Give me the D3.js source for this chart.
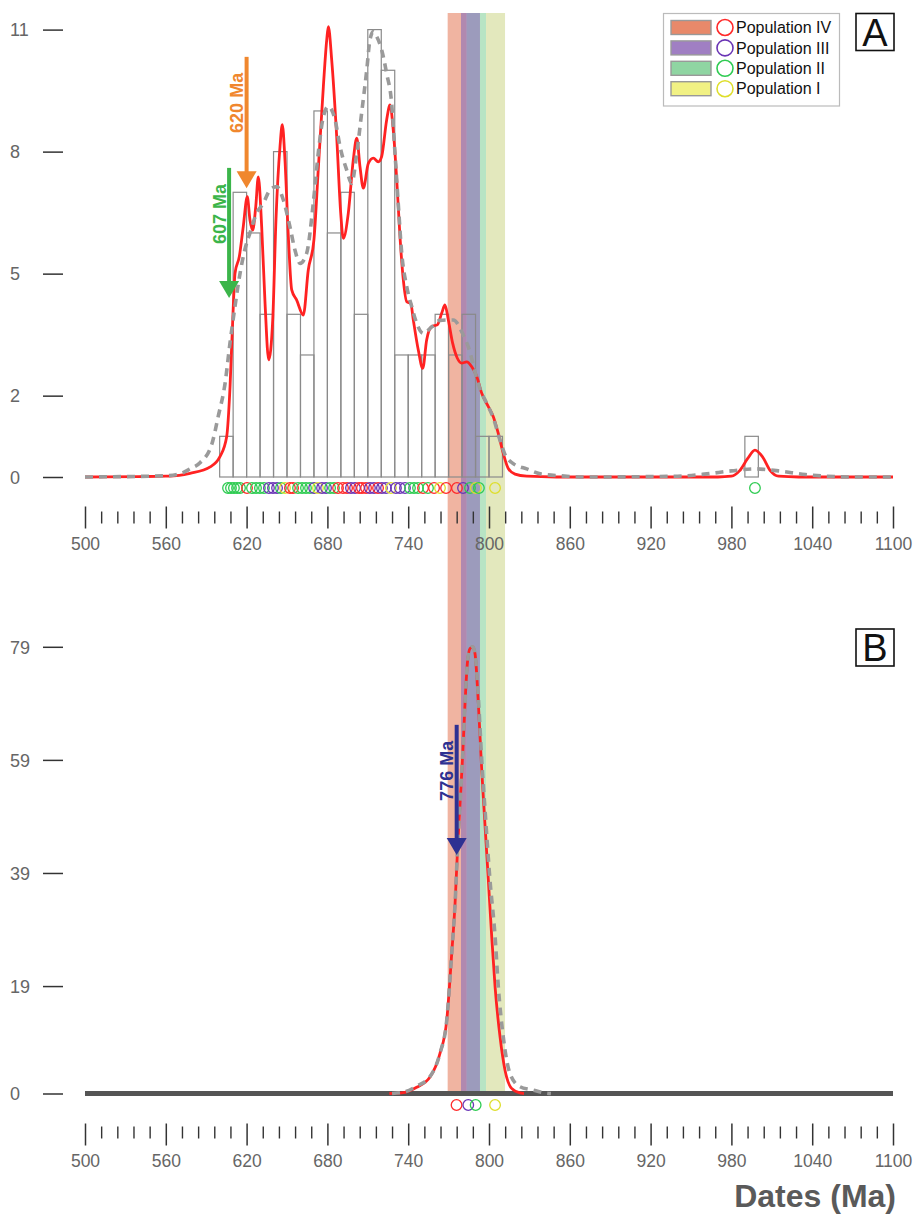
<!DOCTYPE html>
<html lang="en">
<head>
<meta charset="UTF-8">
<script src="https://d3js.org/d3.v7.min.js"></script>
<title>Dates (Ma)</title>
<style>
body{margin:0;background:#fff;}
text{font-family:"Liberation Sans",Arial,sans-serif;}
</style>
</head>
<body>
<script>
// ---- data ----
// histogram (panel A), 10 Ma bins
var binStarts = [600,610,620,630,640,650,660,670,680,690,700,710,720,730,740,750,760,770,780,790,800,990];
var binCounts = [1,7,6,4,8,4,3,9,6,7,4,11,10,3,3,3,4,3,4,1,1,1];

// panel A red curve (KDE)
var kdeAges = [500,540,560,570,578,593,600.2,605.2,607.7,609.7,611.4,614.6,617.5,620.5,622.5,624.5,626.8,628.7,631.2,633.7,636.4,639.4,641.8,644.8,646.5,648.5,651,653.5,657.2,662.1,665.8,670,673.2,677,679.5,680.7,683.2,686.9,689.9,691.8,695.5,699.2,701.8,704.2,706.7,710.4,714.1,717.8,720.3,724,726.5,728.9,731.5,733.9,736.4,738.9,741.9,743.8,747.5,750.8,753.7,757.5,761.6,764.9,767.3,769.8,773,776.5,779.7,783.4,787.2,790.9,794.6,799.5,803.2,806.9,810.6,814.3,819.3,828,850,970,980,986,992,997.5,1003,1009,1015,1030,1100];
var kdeVals = [0,0.01,0.02,0.04,0.09,0.25,0.5,0.99,2.22,3.86,5.01,5.42,6.15,6.89,6.32,6.07,6.65,7.38,6.15,4.27,2.88,3.86,6.32,8.12,8.66,7.79,5.91,4.6,4.35,3.98,5.09,5.83,7.55,9.6,10.75,11.07,10.25,8.37,6.48,5.87,6.48,7.79,8.33,7.63,7.1,7.71,7.84,7.75,7.88,8.78,9.15,8.53,7.3,5.91,4.84,4.31,4.27,3.86,3.12,2.67,3.37,3.7,3.74,4.03,4.23,3.86,3.29,2.92,2.8,2.83,2.71,2.47,2.06,1.73,1.48,1.07,0.58,0.21,0.07,0.02,0,0,0.02,0.15,0.45,0.66,0.5,0.15,0.02,0,0];

// panel A grey dashed curve (PDP)
var pdpAges = [500,560,570.5,578,585.4,594.1,599,604,607.7,611.4,615.1,618.8,622.5,627.5,632.4,637.4,642.4,647.3,652.2,655.9,659.7,664.6,669.5,673.2,677,680.7,685.7,689.4,694.3,698,701.8,705.5,709.2,711.6,714.1,716.6,720.3,724,727.7,730.2,732.6,735.2,738.9,742.6,746.3,751.2,757.5,763.6,769.8,773.5,780.9,785.9,789.6,793.3,798.3,803.2,808.2,811.9,818,828,838,853,870,940,960,980,997,1015,1035,1050,1070,1100];
var pdpVals = [0,0.03,0.08,0.2,0.35,0.8,1.5,2.3,3.3,4.2,5.0,5.6,6.0,6.49,6.73,7.06,7.14,6.81,6.15,5.58,5.25,5.5,6.73,7.96,8.86,9.11,8.78,8.12,7.55,7.22,7.96,8.97,10.0,10.75,10.95,10.83,10.5,9.92,9.19,7.96,6.73,5.5,4.68,4.19,3.78,3.53,3.69,3.85,3.86,3.86,3.49,3.07,2.58,2.17,1.81,1.45,0.9,0.55,0.33,0.2,0.08,0.03,0,0.02,0.07,0.15,0.2,0.15,0.06,0.02,0,0];

// panel B curves
var bKdeAges = [726,735.2,746.3,756.2,763.6,768.6,772.3,774.8,776.5,778.5,780.5,782.2,783.9,785.9,787.9,789.6,792.1,794.6,797.1,799.5,802,804.5,808.2,811.9,816.8,823,826];
var bKdeVals = [0,0.1,1.1,2.9,7.1,12.9,24.7,33.6,42.4,51.3,60.1,69,76,78.7,79,77.8,69,57.2,47.2,37.8,27.8,18.9,10,4.1,0.9,0.1,0];
var bPdpAges = [728,737.6,746.3,756.2,763.6,768.6,772.3,774.8,776.5,778.5,780.5,782.2,783.9,785.9,787.9,789.6,792.1,794.6,797.1,800.7,804.5,806.9,810.6,815.6,823,832.9,840.3,846];
var bPdpVals = [0,0.3,1.3,3,7.1,12.9,24.7,33.6,42.4,51.3,60.1,69,76,78.7,79,77.8,70,59,50,37.8,27.8,18.9,10,3.5,1.2,0.6,0.15,0];

// individual dates (circles) and their population
var dotAges = [606.2,608.4,610.6,612.9,615.1,620.3,624,627,629.9,632.9,636.6,639.6,642.6,645.5,648.5,652.2,654.5,658.2,661.2,664.1,667.1,670.1,673,676,679,682,684.9,687.9,691.6,694.6,697.5,700.5,703.5,705.7,708.7,711.6,714.6,717.6,720.5,723.5,727.2,730.9,733.9,737.6,741.3,744.3,747.3,751,754.7,759.2,763.6,768.1,776.2,780.7,785.9,790.3,792.5,804.5,997.5];
var dotPops = ["II","II","II","II","II","IV","II","II","II","II","III","III","III","II","I","IV","IV","II","II","II","II","III","I","III","III","II","II","IV","IV","IV","III","III","IV","IV","IV","III","III","IV","III","III","I","III","III","III","II","II","II","IV","II","IV","I","IV","IV","III","II","I","II","I","II"];
var bDotAges = [775.9,784.6,790.1,804.5];
var bDotPops = ["IV","III","II","I"];

// populations, bands
var pops = ["IV","III","II","I"];
var popNames = ["Population IV","Population III","Population II","Population I"];
var bandStart = [769.3,779.2,783.4,797.8];
var bandEnd = [783.4,793.3,797.8,811.9];

// annotated ages
var arrowAges = [620, 607];
var arrowTop = [10.33, 7.6];
var arrowTip = [7.1, 4.4];
var bArrowAge = 776, bArrowTop = 65.2, bArrowTip = 42.2;

var ticksA = [0,2,5,8,11];
var ticksB = [0,19,39,59,79];
var xMajor = d3.range(500,1101,60);
var xMinor = d3.range(500,1101,12).filter(function(d){return (d-500)%60!==0;});

// ---- styles ----
var dotColor = {IV:"#ff2a2a", III:"#6a35b5", II:"#2fcb52", I:"#dede2c"};
var swatchColor = {IV:"#e8896a", III:"#a07fc3", II:"#8fd5a2", I:"#f1f184"};
var bandColor = {IV:"#e8896a", III:"#8c70b8", II:"#8fd5a2", I:"#d3db96"};
var arrowColor = ["#f0872e","#3bb54a"];

var W = 920, H = 1217;
var svg = d3.select("body").append("svg").attr("width",W).attr("height",H);

var x = d3.scaleLinear().domain([500,1100]).range([85,893]);
var yA = d3.scaleLinear().domain([0,11]).range([477,29.6]);
var yB = d3.scaleLinear().domain([0,79]).range([1093.5,646.8]);

// bands behind everything
var bandOrder = [0,2,1,3];
svg.append("g").selectAll("rect").data(bandOrder).enter().append("rect")
  .attr("x",function(i){return x(bandStart[i]);})
  .attr("width",function(i){return x(bandEnd[i])-x(bandStart[i]);})
  .attr("y",13)
  .attr("height",yB(0)-13)
  .attr("fill",function(i){return bandColor[pops[i]];})
  .attr("fill-opacity",0.63);

// histogram
svg.append("g").selectAll("rect").data(binStarts).enter().append("rect")
  .attr("x",function(d){return x(d);})
  .attr("width",function(d){return x(d+10)-x(d);})
  .attr("y",function(d,i){return yA(binCounts[i]);})
  .attr("height",function(d,i){return yA(0)-yA(binCounts[i]);})
  .attr("fill","none").attr("stroke","#8a8a8a").attr("stroke-width",1.2);

function curve(ages, vals, y){
  return d3.line().x(function(d){return x(d);}).y(function(d,i){return y(vals[i]);})
    .curve(d3.curveMonotoneX)(ages);
}
function drawCurves(kA,kV,pA,pV,y){
  svg.append("path").attr("d",curve(kA,kV,y)).attr("fill","none")
    .attr("stroke","#ff2222").attr("stroke-width",2.8).attr("stroke-linejoin","round");
  svg.append("path").attr("d",curve(pA,pV,y)).attr("fill","none")
    .attr("stroke","#9a9a9a").attr("stroke-width",3.6).attr("stroke-dasharray","8,6");
}

// panel B baseline
svg.append("line").attr("x1",x(500)).attr("x2",x(1100)).attr("y1",yB(0)).attr("y2",yB(0))
  .attr("stroke","#555").attr("stroke-width",5);

drawCurves(kdeAges,kdeVals,pdpAges,pdpVals,yA);
drawCurves(bKdeAges,bKdeVals,bPdpAges,bPdpVals,yB);

// dots
function dots(ages, p, cy){
  svg.append("g").selectAll("circle").data(ages).enter().append("circle")
    .attr("cx",function(d){return x(d);}).attr("cy",cy).attr("r",5.3)
    .attr("fill","none").attr("stroke-width",1.3)
    .attr("stroke",function(d,i){return dotColor[p[i]];});
}
dots(dotAges,dotPops,488);
dots(bDotAges,bDotPops,1105);

// y axes
function yAxis(y, ticks){
  var g = svg.append("g").attr("transform","translate(63,0)")
    .call(d3.axisLeft(y).tickValues(ticks).tickSize(20).tickFormat(d3.format("d")));
  g.select(".domain").remove();
  g.selectAll("line").attr("stroke","#333").attr("stroke-width",1.5);
  g.selectAll("text").attr("x",-53).attr("text-anchor","start").attr("dy","0.35em")
    .attr("fill","#666").style("font-size","18px").style("font-family","Liberation Sans, Arial, sans-serif");
}
yAxis(yA, ticksA);
yAxis(yB, ticksB);

// x axes
function xAxis(top, minorOff){
  var g = svg.append("g").attr("transform","translate(0,"+top+")")
    .call(d3.axisBottom(x).tickValues(xMajor).tickSize(22).tickPadding(9).tickFormat(d3.format("d")));
  g.select(".domain").remove();
  g.selectAll("line").attr("stroke","#333").attr("stroke-width",1.5);
  g.selectAll("text").attr("fill","#666").style("font-size","17.5px").style("font-family","Liberation Sans, Arial, sans-serif");
  var m = svg.append("g").attr("transform","translate(0,"+(top+minorOff)+")")
    .call(d3.axisBottom(x).tickValues(xMinor).tickSize(12).tickFormat(""));
  m.select(".domain").remove();
  m.selectAll("line").attr("stroke","#333").attr("stroke-width",1.4);
}
xAxis(506.5, 5);
xAxis(1123.5, 3);

svg.append("text").attr("x",896).attr("y",1207).attr("text-anchor","end")
  .style("font-size","32px").style("font-weight","bold").attr("fill","#5a5a5a").text("Dates (Ma)");

// arrows
function arrow(age, top, tip, y, color, label){
  var cx = x(age), y0 = y(top), y1 = y(tip);
  svg.append("line").attr("x1",cx).attr("x2",cx).attr("y1",y0).attr("y2",y1-15)
    .attr("stroke",color).attr("stroke-width",4);
  svg.append("path").attr("d","M"+(cx-10)+","+(y1-17)+"L"+(cx+10)+","+(y1-17)+"L"+cx+","+y1+"Z")
    .attr("fill",color);
  svg.append("text").attr("transform","translate("+(cx-3.5)+","+(y0+16)+") rotate(-90)")
    .attr("text-anchor","end").style("font-size","18px").style("font-weight","bold")
    .attr("fill",color).text(label);
}
arrowAges.forEach(function(a,i){arrow(a,arrowTop[i],arrowTip[i],yA,arrowColor[i],a+" Ma");});
arrow(bArrowAge,bArrowTop,bArrowTip,yB,"#2e3192",bArrowAge+" Ma");

// legend
var lg = svg.append("g");
lg.append("rect").attr("x",663.5).attr("y",13.5).attr("width",176).attr("height",92.5)
  .attr("fill","#fff").attr("stroke","#bbb").attr("stroke-width",1.2);
var row = lg.selectAll("g.row").data(pops).enter().append("g").attr("class","row")
  .attr("transform",function(d,i){return "translate(0,"+(27.5+i*20.4)+")";});
row.append("rect").attr("x",671).attr("y",-7).attr("width",40).attr("height",14)
  .attr("fill",function(d){return swatchColor[d];}).attr("stroke","#999").attr("stroke-width",1.4);
row.append("circle").attr("cx",725).attr("cy",0).attr("r",8)
  .attr("fill","none").attr("stroke",function(d){return dotColor[d];}).attr("stroke-width",1.6);
row.append("text").attr("x",736).attr("y",0).attr("dy","0.36em").style("font-size","16px")
  .attr("fill","#111").text(function(d,i){return popNames[i];});

// panel letters
[["A",13.5],["B",629]].forEach(function(p){
  svg.append("rect").attr("x",856).attr("y",p[1]).attr("width",38).attr("height",37)
    .attr("fill","#fff").attr("stroke","#111").attr("stroke-width",1.6);
  svg.append("text").attr("x",875).attr("y",p[1]+32).attr("text-anchor","middle")
    .style("font-size","38px").attr("fill","#111").text(p[0]);
});
</script>
</body>
</html>
